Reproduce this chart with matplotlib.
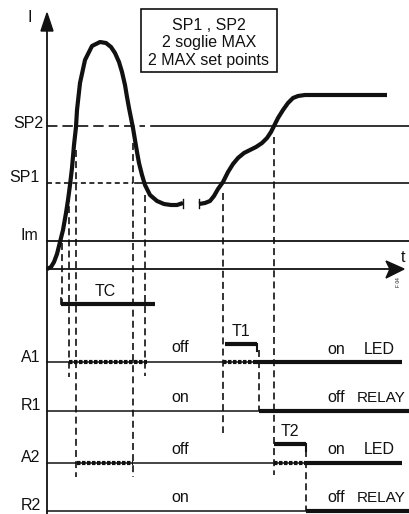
import matplotlib
matplotlib.use("Agg")
import matplotlib.pyplot as plt
from matplotlib.patches import Polygon, Rectangle

plt.rcParams["font.family"] = ["Liberation Sans", "DejaVu Sans"]
plt.rcParams["lines.scale_dashes"] = False

# current curve (pixel units, y grows downward)
curve_a_x = [47, 51, 54, 57, 60, 63, 66, 68, 70, 72, 74, 76, 77, 80, 85, 92, 100,
             106, 111, 115, 119, 122, 125, 127, 129, 131, 133, 135, 137, 139, 142,
             145, 150, 157, 164, 171, 177, 183]
curve_a_y = [269, 267, 262, 254, 242, 230, 213, 200, 185, 168, 145, 127, 110, 83, 60, 46, 42,
             43, 47, 53, 62, 72, 85, 97, 108, 118, 128, 140, 152, 163, 175,
             185, 195, 201, 204, 205, 205, 203]
curve_b_x = [199, 205, 210, 214, 218, 223, 228, 233, 238, 244, 250, 256, 262, 267, 271,
             274, 278, 283, 288, 293, 298, 305, 387]
curve_b_y = [204, 203, 201, 196, 189, 182, 172, 164, 158, 153, 150, 147, 143, 138, 132,
             126, 118, 110, 103, 98, 96, 95, 95]

# thresholds
level_names = ["SP2", "SP1", "Im"]
level_y = [126, 183, 241]

# crossing instants and where each guide line ends
cross_x = [62, 69, 76, 133, 145, 223, 274]
cross_top = [243, 195, 150, 143, 195, 193, 137]
cross_bottom = [303, 377, 477, 477, 376, 433, 475]

# output rows
row_names = ["A1", "R1", "A2", "R2"]
row_y = [362, 411, 463, 511]
row_switch = [256, 259, 305, 306]
row_left_text = ["off", "on", "off", "on"]
row_right_text = ["on", "off", "on", "off"]
row_kind = ["LED", "RELAY", "LED", "RELAY"]
row_pulses = [[(69, 147), (223, 256)], [], [(77, 133), (274, 305)], []]

# timers
timer_names = ["TC", "T1", "T2"]
timer_start = [61, 225, 274]
timer_end = [155, 257, 306]
timer_y = [304, 344, 444]

fig = plt.figure(figsize=(4.09, 5.14), dpi=100)
ax = fig.add_axes([0, 0, 1, 1])
ax.set_xlim(0, 409)
ax.set_ylim(514, 0)
ax.axis("off")

k = "#111111"
fs = 11.5

# axes with arrows
ax.plot([47, 47], [28, 514], color=k, lw=1.3)
ax.add_patch(Polygon([(47, 13), (41, 31), (53, 31)], closed=True, color=k))
ax.plot([47, 390], [269, 269], color=k, lw=1.3)
ax.add_patch(Polygon([(404, 269), (386, 261), (390, 269), (386, 278)], closed=True, color=k))
ax.text(30, 17, "I", fontsize=fs, ha="center", va="center", color=k)
ax.text(403, 257, "t", fontsize=fs, ha="center", va="center", color=k)
ax.text(399, 282, "F 04", fontsize=3.5, rotation=90, ha="center", va="center", color=k)

# threshold lines
ax.plot([47, 409], [level_y[2], level_y[2]], color=k, lw=1.3)
ax.plot([47, 133], [level_y[1], level_y[1]], color=k, lw=1.2, dashes=(3.6, 2.5))
ax.plot([135, 409], [level_y[1], level_y[1]], color=k, lw=1.2)
ax.plot([47, 145], [level_y[0], level_y[0]], color=k, lw=1.2, dashes=(7.5, 3.6))
ax.plot([151, 409], [level_y[0], level_y[0]], color=k, lw=1.2)
ax.text(43, level_y[0] - 3, level_names[0], fontsize=fs, ha="right", va="center", color=k)
ax.text(40, level_y[1] - 6, level_names[1], fontsize=fs, ha="right", va="center", color=k)
ax.text(38, level_y[2] - 6, level_names[2], fontsize=fs, ha="right", va="center", color=k)

# guide lines
for x, top, bottom in zip(cross_x, cross_top, cross_bottom):
    ax.plot([x, x], [top, bottom], color=k, lw=1.2, dashes=(5, 3))
ax.plot([row_switch[1], row_switch[1]], [350, row_y[1]], color=k, lw=1.2, dashes=(5, 3))
ax.plot([row_switch[3], row_switch[3]], [450, row_y[3]], color=k, lw=1.2, dashes=(5, 3))

# current curve
ax.plot(curve_a_x, curve_a_y, color=k, lw=3, solid_capstyle="butt", solid_joinstyle="round")
ax.plot(curve_b_x, curve_b_y, color=k, lw=3, solid_capstyle="butt", solid_joinstyle="round")
ax.plot([curve_a_x[-1], curve_a_x[-1]], [199, 208], color=k, lw=1)
ax.plot([curve_b_x[0], curve_b_x[0]], [199, 208], color=k, lw=1)

# legend box
ax.add_patch(Rectangle((141, 9), 136, 63, fill=False, edgecolor=k, lw=1.2))
ax.text(209, 26, "SP1 , SP2", fontsize=fs, ha="center", va="center", color=k)
ax.text(209, 43, "2 soglie MAX", fontsize=fs, ha="center", va="center", color=k)
ax.text(209, 61, "2 MAX set points", fontsize=fs, ha="center", va="center", color=k)

# timers
for name, x0, x1, y in zip(timer_names, timer_start, timer_end, timer_y):
    ax.plot([x0, x1], [y, y], color=k, lw=3, solid_capstyle="butt")
    ax.text((x0 + x1) / 2 if name != "TC" else 105, y - 12, name, fontsize=fs,
            ha="center", va="center", color=k)
ax.plot([timer_start[0], timer_start[0]], [298, timer_y[0]], color=k, lw=1.2)
ax.plot([timer_end[1], timer_end[1]], [timer_y[1], 351], color=k, lw=1.5)
ax.plot([timer_end[2], timer_end[2]], [timer_y[2], 451], color=k, lw=1.5)

# output rows
for i, y in enumerate(row_y):
    xs = row_switch[i]
    ax.plot([47, xs], [y, y], color=k, lw=1.1)
    x_end = 402 if row_kind[i] == "LED" else 409
    ax.plot([xs, x_end], [y, y], color=k, lw=3, solid_capstyle="butt")
    for p0, p1 in row_pulses[i]:
        ax.plot([p0, p1], [y, y], color=k, lw=3, dashes=(2.5, 1.1), solid_capstyle="butt")
    ax.text(31, y - 5, row_names[i], fontsize=fs, ha="center", va="center", color=k)
    ax.text(180, y - 14, row_left_text[i], fontsize=fs, ha="center", va="center", color=k)
    ax.text(336, y - 13, row_right_text[i], fontsize=fs, ha="center", va="center", color=k)
    if row_kind[i] == "LED":
        ax.text(364, y - 13, row_kind[i], fontsize=fs, ha="left", va="center", color=k)
    else:
        ax.text(357, y - 13, row_kind[i], fontsize=11, ha="left", va="center", color=k)

fig.savefig("out.png", dpi=100)
